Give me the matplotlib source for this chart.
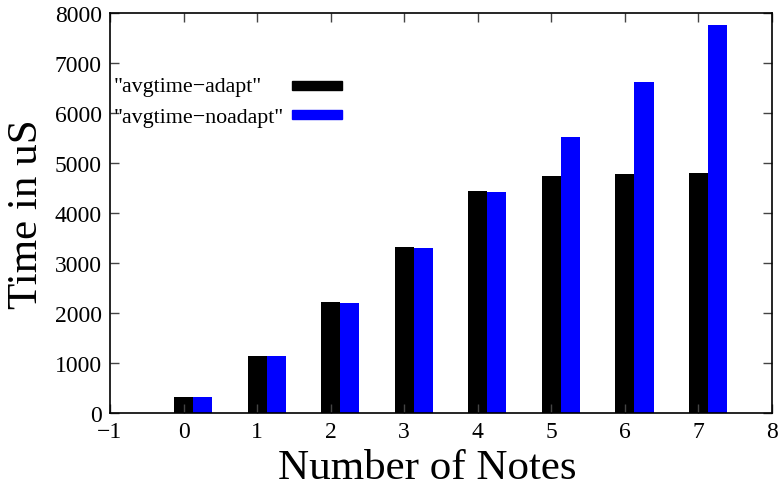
import matplotlib.pyplot as plt
from matplotlib.patches import Rectangle

notes = [0, 1, 2, 3, 4, 5, 6, 7]
adapt = [330, 1140, 2225, 3325, 4440, 4750, 4780, 4805]
noadapt = [325, 1132, 2205, 3305, 4420, 5525, 6625, 7760]
series_names = ['"avgtime\u2212adapt"', '"avgtime\u2212noadapt"']
series_colors = ['black', '#0000ff']

plt.rcParams['font.family'] = ['Liberation Serif', 'DejaVu Serif']

W, H = 779, 485
fig = plt.figure(figsize=(W / 100, H / 100), dpi=100)
ax = fig.add_axes([110 / W, 71 / H, 662 / W, 400 / H])

w = 0.26
ax.bar(notes, adapt, width=w, color=series_colors[0])
ax.bar([n + w for n in notes], noadapt, width=w, color=series_colors[1])

ax.set_xlim(-1, 8)
ax.set_ylim(0, 8000)
ax.set_xticks(range(-1, 9))
ax.set_xticklabels(['\u22121'] + [str(i) for i in range(0, 9)])
ax.set_yticks(range(0, 8001, 1000))
ax.tick_params(direction='in', top=True, right=True, length=6.5, width=1,
               labelsize=17, pad=6, color='#444444')
for s in ax.spines.values():
    s.set_linewidth(1.2)

# gnuplot puts the x label a bit left of the plot centre
fig.text(427 / W, 1 - 479 / H, 'Number of Notes', fontsize=31,
         ha='center', va='baseline')
ax.set_ylabel('Time in uS', fontsize=31, labelpad=6)

# legend, gnuplot style: left-justified text, sample on the right
for i, (name, col) in enumerate(zip(series_names, series_colors)):
    fig.text(114 / W, 1 - (92 + 30.5 * i) / H, name, fontsize=15.8,
             ha='left', va='baseline')
    top = 82 + 29 * i
    fig.patches.append(Rectangle((292 / W, 1 - (top + 9) / H), 50 / W, 9 / H,
                                 transform=fig.transFigure, color=col))

fig.savefig('out.png', dpi=100)
